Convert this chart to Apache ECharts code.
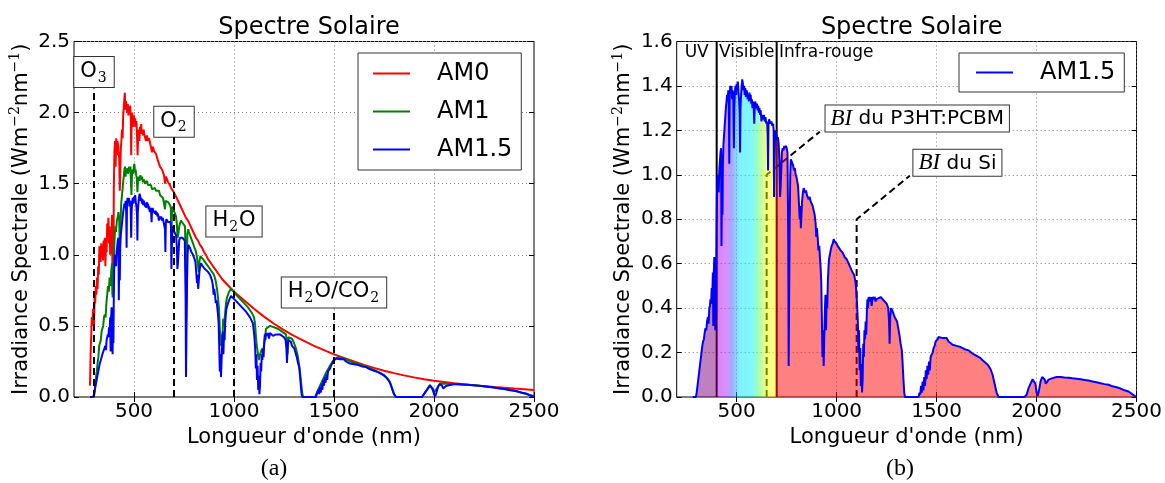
<!DOCTYPE html>
<html><head><meta charset="utf-8">
<script src="https://cdn.jsdelivr.net/npm/echarts@6/dist/echarts.min.js"></script>
<style>html,body{margin:0;padding:0;background:#fff}#c{width:1165px;height:483px}</style>
</head><body><div id="c"></div>
<script>
// ---------------- DATA ----------------
const xTicks = [500, 1000, 1500, 2000, 2500];
const seriesNames = ['AM0', 'AM1', 'AM1.5'];

// Extraterrestrial spectrum (W m-2 nm-1)
const am0 = [[280,0.08],[283,0.30],[286,0.42],[289,0.56],[292,0.50],[295,0.62],[298,0.58],[300,0.50],[303,0.70],[306,0.66],[309,0.78],[312,0.72],[315,0.84],[318,0.76],[321,0.92],[324,0.86],[327,1.06],[330,1.02],[333,0.95],[336,1.08],[339,1.00],[342,1.06],[345,0.96],[348,1.10],[351,1.02],[354,1.12],[357,0.92],[360,1.08],[363,1.02],[366,1.22],[369,1.16],[372,1.26],[375,1.08],[378,1.20],[381,1.00],[384,1.12],[387,1.04],[390,1.28],[393,0.72],[395,1.15],[397,0.80],[399,1.45],[402,1.72],[405,1.80],[408,1.62],[411,1.82],[414,1.70],[417,1.80],[420,1.78],[423,1.72],[426,1.68],[429,1.45],[431,1.55],[434,1.75],[437,1.80],[440,1.88],[443,1.82],[446,1.98],[449,2.04],[452,2.10],[454,2.14],[457,2.02],[460,2.08],[463,2.05],[466,2.00],[469,2.06],[472,1.98],[475,2.04],[478,2.01],[481,2.05],[484,1.96],[486,1.70],[488,1.94],[491,2.00],[494,1.95],[497,1.90],[500,1.98],[503,1.92],[506,1.96],[509,1.90],[512,1.94],[515,1.84],[518,1.70],[521,1.86],[524,1.88],[527,1.80],[530,1.90],[533,1.86],[536,1.92],[539,1.85],[542,1.88],[545,1.84],[548,1.88],[551,1.85],[555,1.86],[560,1.80],[565,1.84],[570,1.80],[575,1.82],[580,1.79],[585,1.78],[590,1.72],[595,1.76],[600,1.73],[605,1.74],[610,1.71],[615,1.70],[620,1.66],[625,1.66],[630,1.62],[635,1.62],[640,1.60],[645,1.58],[650,1.56],[655,1.50],[658,1.55],[662,1.54],[666,1.53],[670,1.51],[675,1.50],[680,1.49],[685,1.47],[690,1.46],[695,1.45],[700,1.44],[710,1.41],[720,1.38],[730,1.35],[740,1.32],[750,1.29],[760,1.26],[770,1.24],[780,1.21],[790,1.18],[800,1.15],[810,1.12],[820,1.10],[830,1.07],[840,1.05],[850,1.02],[860,1.00],[870,0.97],[880,0.95],[890,0.93],[900,0.91],[920,0.87],[940,0.83],[960,0.80],[980,0.77],[1000,0.74],[1050,0.68],[1100,0.62],[1150,0.565],[1200,0.515],[1250,0.47],[1300,0.43],[1350,0.395],[1400,0.36],[1450,0.33],[1500,0.30],[1550,0.275],[1600,0.25],[1650,0.225],[1700,0.205],[1750,0.185],[1800,0.168],[1850,0.152],[1900,0.138],[1950,0.125],[2000,0.114],[2100,0.096],[2200,0.082],[2300,0.07],[2400,0.059],[2500,0.05]];

// Air mass 1
const am1 = [[298,0],[302,0.02],[306,0.08],[310,0.14],[314,0.18],[318,0.24],[322,0.28],[326,0.36],[330,0.38],[334,0.40],[338,0.46],[342,0.48],[346,0.50],[350,0.56],[354,0.58],[358,0.56],[362,0.66],[366,0.72],[370,0.78],[374,0.74],[378,0.84],[382,0.78],[386,0.88],[390,0.94],[393,0.70],[396,0.88],[398,0.80],[401,1.05],[404,1.14],[407,1.20],[410,1.16],[414,1.24],[418,1.26],[422,1.30],[426,1.24],[429,1.05],[432,1.20],[436,1.36],[440,1.42],[444,1.48],[448,1.54],[452,1.60],[455,1.62],[458,1.55],[461,1.60],[464,1.58],[467,1.61],[470,1.57],[473,1.60],[476,1.62],[479,1.58],[482,1.62],[485,1.50],[487,1.42],[490,1.56],[493,1.60],[496,1.57],[499,1.62],[502,1.64],[505,1.58],[508,1.60],[511,1.56],[514,1.54],[517,1.44],[520,1.52],[524,1.55],[528,1.52],[532,1.56],[536,1.53],[540,1.55],[545,1.51],[550,1.53],[555,1.50],[560,1.49],[565,1.52],[570,1.49],[575,1.50],[580,1.48],[585,1.49],[590,1.46],[595,1.47],[600,1.46],[605,1.47],[610,1.45],[615,1.46],[620,1.44],[625,1.45],[630,1.42],[635,1.43],[640,1.42],[645,1.40],[650,1.40],[655,1.32],[658,1.38],[662,1.39],[666,1.38],[670,1.37],[675,1.36],[680,1.35],[684,1.33],[687,1.12],[690,1.30],[694,1.34],[698,1.33],[702,1.30],[706,1.29],[710,1.27],[714,1.22],[718,1.12],[722,1.15],[726,1.20],[730,1.22],[735,1.24],[740,1.24],[745,1.22],[750,1.22],[755,1.20],[759,0.90],[761,0.55],[764,0.95],[767,1.15],[771,1.18],[775,1.16],[780,1.15],[785,1.12],[790,1.10],[795,1.08],[800,1.06],[805,1.05],[810,1.02],[815,0.98],[820,0.92],[824,0.88],[828,0.96],[832,0.99],[836,1.00],[840,0.98],[845,0.97],[850,0.96],[860,0.94],[870,0.92],[880,0.90],[890,0.88],[900,0.86],[908,0.82],[915,0.76],[920,0.70],[925,0.62],[930,0.45],[934,0.36],[938,0.44],[942,0.40],[946,0.55],[950,0.50],[955,0.58],[960,0.66],[965,0.70],[970,0.72],[975,0.74],[980,0.75],[985,0.76],[990,0.76],[995,0.75],[1000,0.74],[1010,0.72],[1020,0.71],[1030,0.69],[1040,0.68],[1050,0.66],[1060,0.65],[1070,0.63],[1080,0.61],[1090,0.59],[1100,0.56],[1105,0.52],[1110,0.42],[1115,0.35],[1120,0.30],[1125,0.26],[1130,0.30],[1135,0.32],[1140,0.34],[1145,0.31],[1150,0.36],[1155,0.42],[1160,0.48],[1170,0.49],[1180,0.50],[1190,0.49],[1200,0.49],[1210,0.48],[1220,0.48],[1230,0.47],[1240,0.46],[1250,0.45],[1260,0.44],[1265,0.38],[1268,0.30],[1272,0.42],[1280,0.43],[1290,0.41],[1300,0.38],[1310,0.34],[1320,0.28],[1330,0.18],[1340,0.04],[1345,0],[1405,0],[1430,0.08],[1460,0.17],[1480,0.22],[1500,0.265],[1520,0.28],[1550,0.27],[1600,0.24],[1650,0.22],[1700,0.19],[1750,0.155],[1780,0.105],[1800,0.02],[1810,0],[1940,0],[1980,0.085],[2000,0.03],[2030,0.095],[2100,0.092],[2200,0.083],[2300,0.067],[2400,0.046],[2500,0.005]];

// Air mass 1.5
const am15 = [[280,0],[296,0],[300,0.02],[304,0.05],[308,0.08],[312,0.11],[316,0.14],[320,0.17],[324,0.20],[328,0.23],[332,0.25],[336,0.26],[340,0.29],[344,0.31],[348,0.30],[352,0.34],[356,0.36],[360,0.33],[363,0.40],[366,0.41],[369,0.44],[372,0.42],[375,0.49],[378,0.46],[381,0.56],[383,0.32],[385,0.54],[388,0.63],[391,0.55],[393,0.30],[395,0.52],[397,0.38],[399,0.70],[401,0.90],[404,0.98],[407,1.00],[410,0.92],[413,1.02],[416,1.06],[419,1.10],[422,1.12],[424,0.68],[426,0.95],[429,0.82],[431,1.05],[434,1.14],[437,1.18],[440,1.22],[443,1.26],[446,1.30],[449,1.33],[452,1.36],[455,1.34],[458,1.38],[461,1.30],[463,1.05],[465,1.36],[468,1.40],[471,1.37],[474,1.40],[477,1.34],[480,1.38],[483,1.35],[486,1.12],[488,1.30],[491,1.37],[494,1.40],[497,1.36],[500,1.41],[503,1.38],[506,1.42],[509,1.37],[512,1.34],[515,1.28],[517,1.10],[519,1.30],[522,1.36],[525,1.40],[528,1.43],[531,1.41],[534,1.38],[537,1.40],[540,1.36],[543,1.39],[546,1.35],[549,1.38],[552,1.37],[555,1.34],[558,1.36],[561,1.33],[564,1.37],[567,1.34],[570,1.36],[573,1.32],[576,1.34],[579,1.30],[582,1.33],[585,1.31],[588,1.23],[590,1.30],[593,1.33],[596,1.31],[599,1.30],[602,1.32],[605,1.29],[608,1.31],[611,1.28],[614,1.30],[617,1.27],[620,1.29],[624,1.24],[628,1.27],[632,1.25],[636,1.27],[640,1.24],[644,1.26],[648,1.23],[652,1.24],[655,1.18],[657,1.02],[659,1.22],[662,1.25],[666,1.24],[670,1.23],[674,1.24],[678,1.22],[682,1.23],[685,1.20],[687,0.90],[689,1.05],[692,1.18],[695,1.20],[698,1.18],[702,1.16],[706,1.17],[710,1.14],[714,1.06],[717,0.90],[720,0.95],[723,1.02],[726,1.10],[730,1.12],[734,1.11],[738,1.13],[742,1.12],[746,1.13],[750,1.12],[754,1.10],[758,0.70],[760,0.14],[762,0.40],[765,0.78],[768,1.00],[771,1.07],[775,1.06],[779,1.05],[783,1.04],[787,1.02],[791,1.03],[795,1.00],[799,0.99],[803,0.97],[807,0.95],[811,0.88],[815,0.80],[818,0.86],[821,0.76],[824,0.82],[827,0.88],[831,0.92],[835,0.94],[839,0.93],[843,0.92],[847,0.93],[851,0.91],[855,0.90],[860,0.89],[865,0.90],[870,0.88],[875,0.87],[880,0.86],[885,0.84],[890,0.82],[895,0.78],[898,0.72],[901,0.76],[905,0.72],[909,0.66],[913,0.68],[917,0.62],[920,0.58],[923,0.52],[926,0.36],[929,0.18],[932,0.30],[935,0.14],[938,0.26],[941,0.38],[944,0.46],[947,0.30],[950,0.44],[953,0.40],[956,0.52],[959,0.58],[962,0.62],[966,0.64],[970,0.66],[975,0.68],[980,0.69],[985,0.71],[990,0.70],[995,0.70],[1000,0.69],[1005,0.68],[1010,0.68],[1020,0.66],[1030,0.65],[1040,0.63],[1050,0.62],[1060,0.60],[1070,0.58],[1080,0.56],[1087,0.55],[1094,0.52],[1098,0.48],[1102,0.42],[1106,0.34],[1109,0.20],[1112,0.30],[1115,0.12],[1118,0.22],[1121,0.05],[1124,0.15],[1127,0.02],[1130,0.08],[1133,0.24],[1136,0.18],[1139,0.30],[1142,0.26],[1145,0.34],[1148,0.28],[1151,0.38],[1154,0.44],[1157,0.40],[1160,0.45],[1165,0.43],[1170,0.45],[1175,0.41],[1180,0.45],[1185,0.44],[1190,0.45],[1195,0.43],[1200,0.44],[1210,0.44],[1220,0.45],[1230,0.44],[1240,0.44],[1250,0.42],[1258,0.40],[1262,0.34],[1265,0.24],[1268,0.36],[1272,0.40],[1278,0.39],[1284,0.39],[1290,0.36],[1296,0.35],[1302,0.34],[1308,0.31],[1314,0.28],[1320,0.24],[1326,0.21],[1330,0.15],[1334,0.08],[1338,0.02],[1342,0],[1410,0],[1414,0.02],[1418,0.01],[1422,0.05],[1426,0.02],[1430,0.07],[1434,0.03],[1438,0.09],[1442,0.05],[1446,0.12],[1450,0.08],[1454,0.14],[1458,0.10],[1462,0.16],[1466,0.12],[1470,0.18],[1475,0.19],[1480,0.20],[1485,0.22],[1490,0.23],[1495,0.25],[1500,0.25],[1505,0.26],[1510,0.27],[1520,0.27],[1530,0.265],[1540,0.26],[1550,0.265],[1560,0.25],[1570,0.245],[1580,0.235],[1590,0.24],[1600,0.23],[1610,0.235],[1620,0.225],[1630,0.22],[1640,0.215],[1650,0.21],[1660,0.21],[1670,0.205],[1680,0.195],[1690,0.19],[1700,0.185],[1710,0.18],[1720,0.175],[1730,0.165],[1740,0.16],[1750,0.15],[1760,0.14],[1770,0.125],[1780,0.10],[1790,0.06],[1800,0.02],[1810,0],[1940,0],[1950,0.01],[1960,0.04],[1970,0.06],[1980,0.08],[1988,0.085],[1994,0.06],[2000,0.02],[2006,0.005],[2012,0.03],[2020,0.07],[2028,0.09],[2034,0.095],[2040,0.08],[2046,0.06],[2052,0.065],[2060,0.078],[2070,0.082],[2080,0.085],[2090,0.088],[2100,0.09],[2120,0.09],[2140,0.088],[2160,0.087],[2180,0.084],[2200,0.082],[2220,0.08],[2240,0.077],[2260,0.074],[2280,0.07],[2300,0.066],[2320,0.062],[2340,0.058],[2360,0.055],[2380,0.048],[2390,0.052],[2400,0.044],[2410,0.045],[2420,0.038],[2430,0.042],[2440,0.03],[2450,0.035],[2460,0.025],[2470,0.03],[2480,0.012],[2490,0.008],[2500,0]];

// Absorbers (panel a): wavelength, top of dashed line, label centre
const absorberText = ['{o|O}{s|3}', '{o|O}{s|2}', '{o|H}{s|2}{o|O}', '{o|H}{s|2}{o|O/CO}{s|2}'];
const absorberNm = [300, 700, 1000, 1500];
const absorberLineTop = [2.17, 1.83, 1.12, 0.62];
const absorberBoxY = [2.285, 1.935, 1.235, 0.735];

// Regions (panel b)
const regionBounds = [400, 700];
const regionNames = ['UV', 'Visible', 'Infra-rouge'];
const regionLabelNm = [300, 550, 712];
const regionLabelY = 1.55;

// Band gaps (panel b)
const gapText = ['{i|BI} du P3HT:PCBM', '{i|BI} du Si'];
const gapNm = [650, 1100];
const gapTop = [1.0, 0.8];
const gapLeadEnd = [[916, 1.194], [1366, 0.996]];
const gapBox = [[1403, 1.254], [1604, 1.054]];

// ---------------- CHART ----------------
const FONT = 'DejaVu Sans';
const chart = echarts.init(document.getElementById('c'));
const L = 74, R = 676.7, T = 41.5, W = 460, H = 355.5;

const first = am15[0][0], last = am15[am15.length - 1][0];
const off = nm => (nm - first) / (last - first);
const stopDefs = [[first,'#800080'],[400,'#800080'],[400,'#c000e8'],[445,'#b020ff'],[475,'#5050ff'],[495,'#20a0ff'],[515,'#00e8ff'],[575,'#00f0f0'],[605,'#40ff80'],[630,'#a0ff30'],[650,'#f0ff00'],[688,'#ffff00'],[697,'#ff9000'],[700,'#ff0000'],[last,'#ff0000']];
const grad = new echarts.graphic.LinearGradient(0, 0, 1, 0, stopDefs.map(s => ({offset: off(s[0]), color: s[1]})));

const tickStyle = {show: true, inside: true, length: 5, lineStyle: {color: '#000'}};
function xAxisCfg(gi) {
  return {
    gridIndex: gi, type: 'value', min: 200, max: 2500,
    axisLine: {show: false},
    axisTick: Object.assign({customValues: xTicks}, tickStyle),
    axisLabel: {customValues: xTicks, fontSize: 20, color: '#000', fontFamily: FONT, margin: 5, formatter: v => String(v)},
    splitLine: {show: true, lineStyle: {color: '#777', type: [1, 3]}},
    name: "Longueur d'onde (nm)", nameLocation: 'middle', nameGap: 21,
    nameTextStyle: {fontSize: 21, color: '#000', fontFamily: FONT}
  };
}
function xTopCfg(gi) {
  return {gridIndex: gi, type: 'value', min: 200, max: 2500, position: 'top',
    axisLine: {show: false}, axisTick: Object.assign({customValues: xTicks}, tickStyle),
    axisLabel: {show: false}, splitLine: {show: false}};
}
function yAxisCfg(gi, max, interval) {
  return {
    gridIndex: gi, type: 'value', min: 0, max: max, interval: interval,
    axisLine: {show: false},
    axisTick: tickStyle,
    axisLabel: {fontSize: 20, color: '#000', fontFamily: FONT, margin: 4, formatter: v => v.toFixed(1)},
    splitLine: {show: true, lineStyle: {color: '#777', type: [1, 3]}},
    name: 'Irradiance Spectrale (Wm{sup|−2}nm{sup|−1})', nameLocation: 'middle', nameGap: 37,
    nameTextStyle: {fontSize: 21, color: '#000', fontFamily: FONT, lineHeight: 26,
      rich: {sup: {fontSize: 14, fontFamily: 'DejaVu Serif', color: '#000', verticalAlign: 'top', lineHeight: 12}}}
  };
}
function yRightCfg(gi, max, interval) {
  return {gridIndex: gi, type: 'value', min: 0, max: max, interval: interval, position: 'right',
    axisLine: {show: false}, axisTick: tickStyle, axisLabel: {show: false}, splitLine: {show: false}};
}
function seg(pts, gi, style, z) {
  return {type: 'line', xAxisIndex: gi, yAxisIndex: gi, data: pts, symbol: 'none', lineStyle: style, z: z, silent: true};
}
const dashStyle = {color: '#000', width: 2, type: [7, 4]};
const boxLabel = {show: true, position: 'inside', color: '#000', fontFamily: FONT, fontSize: 21,
  backgroundColor: '#fff', borderColor: '#333', borderWidth: 1, padding: [4, 6, 2, 6]};

const series = [];
// panel a curves
[am0, am1, am15].forEach((d, i) => {
  series.push({type: 'line', name: seriesNames[i], xAxisIndex: 0, yAxisIndex: 0, data: d, symbol: 'none',
    color: ['#ff0000', '#008000', '#0000ff'][i], lineStyle: {width: 2}, z: 2});
});
absorberNm.forEach((nm, i) => series.push(seg([[nm, 0], [nm, absorberLineTop[i]]], 0, dashStyle, 4)));
series.push({type: 'scatter', xAxisIndex: 0, yAxisIndex: 0, symbolSize: 0, z: 6, silent: true, itemStyle: {opacity: 1},
  data: absorberNm.map((nm, i) => ({value: [nm, absorberBoxY[i]], label: {formatter: absorberText[i]}})),
  label: Object.assign({}, boxLabel, {rich: {o: {fontSize: 21, fontFamily: FONT, color: '#000', lineHeight: 24, verticalAlign: 'top'},
    s: {fontSize: 14, fontFamily: 'DejaVu Serif', color: '#000', lineHeight: 14, verticalAlign: 'bottom', padding: [0, 1, 0, 1]}}})});

// panel b
regionBounds.forEach(nm => series.push(seg([[nm, 0], [nm, 1.6]], 1, {color: '#000', width: 2}, 2)));
gapNm.forEach((nm, i) => series.push(seg([[nm, 0], [nm, gapTop[i]], gapLeadEnd[i]], 1, dashStyle, 2)));
series.push({type: 'line', name: 'AM1.5', xAxisIndex: 1, yAxisIndex: 1, data: am15, symbol: 'none',
  color: '#0000ff', lineStyle: {width: 2}, areaStyle: {color: grad, opacity: 0.5}, z: 3});
series.push({type: 'scatter', xAxisIndex: 1, yAxisIndex: 1, symbolSize: 0, z: 6, silent: true, itemStyle: {opacity: 1},
  data: regionNames.map((n, i) => ({value: [regionLabelNm[i], regionLabelY], label: {formatter: n, position: i === 2 ? 'right' : 'inside', distance: 0}})),
  label: {show: true, color: '#000', fontFamily: FONT, fontSize: 17}});
series.push({type: 'scatter', xAxisIndex: 1, yAxisIndex: 1, symbolSize: 0, z: 6, silent: true, itemStyle: {opacity: 1},
  data: gapNm.map((nm, i) => ({value: gapBox[i], label: {formatter: gapText[i]}})),
  label: Object.assign({}, boxLabel, {fontSize: 20, padding: [2, 5, 1, 5],
    rich: {i: {fontFamily: 'Liberation Serif', fontStyle: 'italic', fontSize: 23, color: '#000'}}})});

const legendBase = {orient: 'vertical', itemWidth: 37, itemHeight: 2, itemGap: 13, selectedMode: false, icon: 'rect',
  borderColor: '#333', borderWidth: 1, backgroundColor: '#fff', z: 10,
  textStyle: {fontSize: 24, fontFamily: FONT, color: '#000', padding: [0, 0, 0, 22], lineHeight: 25}};

chart.setOption({
  animation: false,
  backgroundColor: '#fff',
  title: [
    {text: 'Spectre Solaire', left: L + W / 2, top: 11, textAlign: 'center', textStyle: {fontSize: 24, fontWeight: 'normal', fontFamily: FONT, color: '#000'}},
    {text: 'Spectre Solaire', left: R + W / 2, top: 11, textAlign: 'center', textStyle: {fontSize: 24, fontWeight: 'normal', fontFamily: FONT, color: '#000'}},
    {text: '(a)', left: 269, top: 452, textAlign: 'center', textStyle: {fontSize: 24, fontWeight: 'normal', fontFamily: 'Liberation Serif', color: '#000'}},
    {text: '(b)', left: 895, top: 452, textAlign: 'center', textStyle: {fontSize: 24, fontWeight: 'normal', fontFamily: 'Liberation Serif', color: '#000'}}
  ],
  grid: [
    {left: L, top: T, width: W, height: H, show: true, borderColor: '#000', borderWidth: 1, backgroundColor: 'transparent'},
    {left: R, top: T, width: W, height: H, show: true, borderColor: '#000', borderWidth: 1, backgroundColor: 'transparent'}
  ],
  xAxis: [xAxisCfg(0), xAxisCfg(1), xTopCfg(0), xTopCfg(1)],
  yAxis: [yAxisCfg(0, 2.5, 0.5), yAxisCfg(1, 1.6, 0.2), yRightCfg(0, 2.5, 0.5), yRightCfg(1, 1.6, 0.2)],
  legend: [
    Object.assign({}, legendBase, {data: seriesNames, left: 358, top: 53, padding: [8, 9, 8, 15]}),
    Object.assign({}, legendBase, {data: ['AM1.5'], left: 959, top: 53, padding: [7, 9, 7, 17]})
  ],
  series: series
});
</script></body></html>
